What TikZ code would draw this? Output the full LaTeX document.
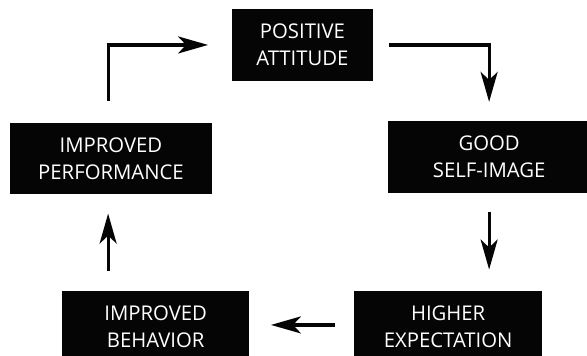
\documentclass[tikz,border=0pt]{standalone}
\usepackage{fontspec}
\setmainfont{Open Sans}
\usetikzlibrary{positioning,arrows.meta,calc}
\definecolor{cBox}{HTML}{050505}
\tikzset{
  stage/.style={fill=cBox, text=white, align=center, inner sep=0pt,
                minimum height=2.5cm, font=\fontsize{20.3}{27}\selectfont},
  ar/.style={-{Stealth[length=30pt, width=17pt, inset=8pt]}, line width=3.2pt, cBox},
}

\begin{document}
\begin{tikzpicture}[scale=1]
    \useasboundingbox (0,0) rectangle (20.63,12.51);
    \clip (0,0) rectangle (20.63,12.51);

    \node[stage, minimum width=4.96cm] (pa)  at (10.63,10.93) {POSITIVE\\ATTITUDE};
    \node[stage, minimum width=7.10cm] (ip)  at (3.90,6.94)   {IMPROVED\\PERFORMANCE};
    \node[stage, minimum width=7.10cm] (gsi) at (17.19,6.99)  {GOOD\\SELF-IMAGE};
    \node[stage, minimum width=6.57cm] (ib)  at (5.47,1.04)   {IMPROVED\\BEHAVIOR};
    \node[stage, minimum width=6.61cm] (he)  at (15.75,1.04)  {HIGHER\\EXPECTATION};

    \draw[ar] ($(ip.north)+(-0.1,0.77)$) |- ($(pa.west)+(-0.83,0)$);
    \draw[ar] ($(pa.east)+(0.56,0)$) -| ($(gsi.north)+(0,0.68)$);
    \draw[ar] ($(gsi.south)+(0,-0.66)$) -- ($(gsi.south |- he.north)+(0,0.74)$);
    \draw[ar] ($(he.west)+(-0.67,0.05)$) -- ($(ib.east)+(0.76,0.05)$);
    \draw[ar] ($(ip.south |- ib.north)+(-0.1,0.68)$) -- ($(ip.south)+(-0.1,-0.68)$);
  \end{tikzpicture}
\end{document}
